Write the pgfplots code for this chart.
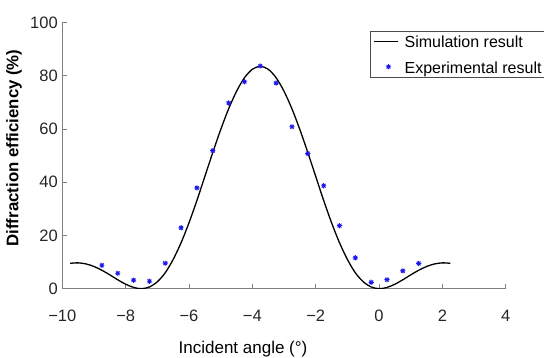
\documentclass[border=0pt]{standalone}
\usepackage{pgfplots}
\pgfplotsset{compat=1.18}
\usepackage{fontspec}
\setmainfont{Liberation Sans}

\definecolor{axgray}{RGB}{128,128,128}
\definecolor{ticktext}{RGB}{38,38,38}
\definecolor{mblue}{RGB}{25,25,235}

\pgfdeclareplotmark{mstar}{%
  \pgfpathmoveto{\pgfqpoint{-\pgfplotmarksize}{0pt}}\pgfpathlineto{\pgfqpoint{\pgfplotmarksize}{0pt}}%
  \pgfpathmoveto{\pgfqpoint{0pt}{-\pgfplotmarksize}}\pgfpathlineto{\pgfqpoint{0pt}{\pgfplotmarksize}}%
  \pgfpathmoveto{\pgfqpoint{-0.707\pgfplotmarksize}{-0.707\pgfplotmarksize}}\pgfpathlineto{\pgfqpoint{0.707\pgfplotmarksize}{0.707\pgfplotmarksize}}%
  \pgfpathmoveto{\pgfqpoint{-0.707\pgfplotmarksize}{0.707\pgfplotmarksize}}\pgfpathlineto{\pgfqpoint{0.707\pgfplotmarksize}{-0.707\pgfplotmarksize}}%
  \pgfusepathqstroke}

\pgfplotsset{
  simleg/.style={legend image code/.code={\draw[##1] (0pt,0pt) -- (24pt,0pt);}},
  expleg/.style={legend image code/.code={\draw[##1] plot coordinates {(14pt,0pt)};}},
}

\pgfplotstableread{
x y
-9.75 9.55
-9.50 9.71
-9.25 9.31
-9.00 8.35
-8.75 6.93
-8.50 5.20
-8.25 3.36
-8.00 1.69
-7.75 0.47
-7.50 0.00
-7.25 0.65
-7.00 2.60
-6.75 6.00
-6.50 11.0
-6.25 17.3
-6.00 24.8
-5.75 33.2
-5.50 42.2
-5.25 51.2
-5.00 59.8
-4.75 67.6
-4.50 74.2
-4.25 79.3
-4.00 82.5
-3.75 83.6
-3.50 82.5
-3.25 79.3
-3.00 74.2
-2.75 67.6
-2.50 59.8
-2.25 51.2
-2.00 42.2
-1.75 33.2
-1.50 24.8
-1.25 17.3
-1.00 11.0
-0.75 6.00
-0.50 2.60
-0.25 0.65
0.00 0.00
0.25 0.47
0.50 1.69
0.75 3.36
1.00 5.20
1.25 6.93
1.50 8.35
1.75 9.31
2.00 9.71
2.25 9.55
}\simdata

\pgfplotstableread{
x y
-8.75 8.8
-8.25 5.8
-7.75 3.2
-7.25 2.8
-6.75 9.6
-6.25 22.9
-5.75 37.9
-5.25 51.9
-4.75 69.8
-4.25 77.8
-3.75 83.7
-3.25 77.3
-2.75 60.9
-2.25 50.8
-1.75 38.7
-1.25 23.7
-0.75 11.6
-0.25 2.4
0.25 3.4
0.75 6.7
1.25 9.5
}\expdata

\begin{document}
\begin{tikzpicture}
\begin{axis}[
  at={(0,0)}, anchor=south west,
  scale only axis, width=443.5pt, height=266pt,
  xmin=-10, xmax=4, ymin=0, ymax=100,
  axis lines=left,
  axis line style={-, draw=axgray, line width=0.8pt},
  tick align=inside,
  major tick length=5pt,
  tick style={draw=axgray, line width=0.8pt},
  xtick={-10,-8,-6,-4,-2,0,2,4},
  xticklabels={−10,−8,−6,−4,−2,0,2,4},
  ytick={0,20,40,60,80,100},
  yticklabels={0,20,40,60,80,100},
  tick label style={font=\fontsize{16.5}{19}\selectfont, text=ticktext},
  xticklabel style={yshift=-17.5pt},
  yticklabel style={xshift=-1pt},
  xlabel={Incident angle (°)},
  ylabel={\bfseries Diffraction efficiency (\%)},
  xlabel style={at={(axis description cs:0.4075,-0.2455)}, anchor=base, font=\fontsize{17}{20}\selectfont},
  ylabel style={at={(axis description cs:-0.1089,0.529)}, anchor=center, font=\fontsize{16.8}{20}\selectfont},
  legend style={at={(axis description cs:0.6938,0.970)}, anchor=north west,
    draw=black!70, line width=0.6pt, fill=white,
    font=\fontsize{16}{19}\selectfont,
    inner xsep=3.5pt, inner ysep=2pt, row sep=9.2pt, column sep=5.5pt,
    nodes={inner sep=0pt, text height=15pt, text depth=1.4pt},
    legend cell align=left},
]
\addplot[black, line width=1.3pt, smooth, mark=none, simleg]
  table[x=x, y=y] {\simdata};
\addlegendentry{Simulation result}
\addplot[only marks, mark=mstar, mark size=2.6pt, mark options={draw=mblue, line width=0.9pt}, expleg]
  table[x=x, y=y] {\expdata};
\addlegendentry{Experimental result}
\end{axis}
\pgfresetboundingbox
\path[use as bounding box] (-62.3pt,-69.3pt) rectangle (481.7pt,288.7pt);
\end{tikzpicture}
\end{document}
